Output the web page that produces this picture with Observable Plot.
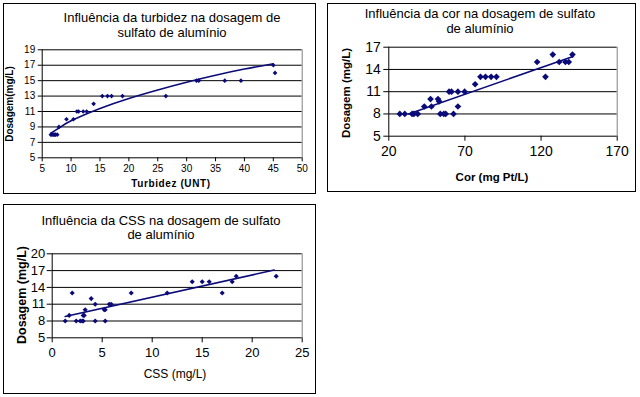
<!DOCTYPE html>
<html><head><meta charset="utf-8">
<script src="https://cdn.jsdelivr.net/npm/d3@7"></script>
<script src="https://cdn.jsdelivr.net/npm/@observablehq/plot@0.6"></script>
<style>
body{margin:0;background:#fff;}
#root{position:relative;width:640px;height:397px;overflow:hidden;font-family:"Liberation Sans",Arial,sans-serif;background:#fff;}
.box{position:absolute;border:1px solid #000;box-sizing:border-box;}
.t{position:absolute;white-space:nowrap;transform:translate(-50%,-50%);color:#000;line-height:1;}
.r{transform:translate(-50%,-50%) rotate(-90deg);}
.plot{position:absolute;}
</style></head><body><div id="root"></div>
<script>
// ---- Chart 1: turbidez ----
const turbTitle = ["Influência da turbidez na dosagem de", "sulfato de alumínio"];
const turbXLabel = "Turbidez (UNT)";
const turbYLabel = "Dosagem(mg/L)";
const turbX = [6.5, 6.7, 6.9, 7.1, 7.3, 7.6, 7.9, 9.2, 10.4, 11.0, 11.3, 12.1, 12.7, 13.9, 15.4, 16.3, 17.0, 18.9, 26.4, 31.7, 32.1, 36.6, 39.4, 45.3, 45.0];
const turbY = [8, 8, 8, 8, 8, 8, 9, 10, 10, 11, 11, 11, 11, 12, 13, 13, 13, 13, 13, 15, 15, 15, 15, 16, 17];
const turbTrendX = [6.5, 8, 10, 15, 20, 25, 30, 35, 40, 45];
const turbTrendY = [8.2, 8.9, 9.8, 11.4, 12.7, 13.8, 14.8, 15.7, 16.5, 17.2];
const turbXTicks = [5, 10, 15, 20, 25, 30, 35, 40, 45, 50];
const turbYTicks = [5, 7, 9, 11, 13, 15, 17, 19];

// ---- Chart 2: cor ----
const corTitle = ["Influência da cor na dosagem de sulfato", "de alumínio"];
const corXLabel = "Cor (mg Pt/L)";
const corYLabel = "Dosagem (mg/L)";
const corX = [27.2, 30.5, 35.3, 36.5, 39.0, 43.3, 47.4, 48.0, 52.3, 53.0, 53.8, 56.1, 57.4, 59.6, 61.2, 62.5, 65.4, 65.4, 69.8, 76.7, 80.2, 83.5, 87.2, 90.7, 117.4, 122.9, 127.7, 131.9, 136.0, 138.2, 140.6];
const corY = [8, 8, 8, 8, 8, 9, 10, 9, 10, 9.7, 8, 8, 8, 11, 11, 8, 11, 9, 11, 12, 13, 13, 13, 13, 15, 13, 16, 15, 15, 15, 16];
const corTrendX = [33, 141];
const corTrendY = [8.0, 15.75];
const corXTicks = [20, 70, 120, 170];
const corYTicks = [5, 8, 11, 14, 17];

// ---- Chart 3: CSS ----
const cssTitle = ["Influência da CSS na dosagem de sulfato", "de alumínio"];
const cssXLabel = "CSS (mg/L)";
const cssYLabel = "Dosagem (mg/L)";
const cssX = [1.3, 1.7, 2.0, 2.4, 2.8, 3.0, 3.1, 3.1, 3.2, 3.3, 3.9, 4.3, 4.3, 5.2, 5.3, 5.3, 5.7, 5.9, 7.9, 11.5, 14.0, 15.0, 15.7, 17.0, 18.0, 18.4, 22.4];
const cssY = [8, 9, 13, 8, 8, 8, 8, 9, 9, 10, 12, 11, 8, 10, 10, 8, 11, 11, 13, 13, 15, 15, 15, 13, 15, 16, 16];
const cssTrendX = [1.3, 22.2];
const cssTrendY = [8.8, 17.1];
const cssXTicks = [0, 5, 10, 15, 20, 25];
const cssYTicks = [5, 8, 11, 14, 17, 20];

const NAVY = "#0a0a78";
const root = document.getElementById("root");

function addText(txt, cx, cy, style, rotate) {
  const d = document.createElement("div");
  d.className = "t" + (rotate ? " r" : "");
  d.textContent = txt;
  d.style.left = cx + "px";
  d.style.top = cy + "px";
  Object.assign(d.style, style);
  root.appendChild(d);
}

function chart(c) {
  const box = document.createElement("div");
  box.className = "box";
  Object.assign(box.style, {left: c.box[0] + "px", top: c.box[1] + "px", width: c.box[2] + "px", height: c.box[3] + "px"});
  root.appendChild(box);

  const pts = c.xs.map((x, i) => ({x, y: c.ys[i]}));
  const trend = c.tx.map((x, i) => ({x, y: c.ty[i]}));
  const xMin = c.xTicks[0], xMax = c.xTicks[c.xTicks.length - 1];
  const yMin = c.yTicks[0], yMax = c.yTicks[c.yTicks.length - 1];

  const svg = Plot.plot({
    width: c.w, height: c.h,
    marginLeft: c.m[0], marginRight: c.m[1], marginTop: c.m[2], marginBottom: c.m[3],
    style: {fontFamily: "'Liberation Sans', Arial, sans-serif", fontSize: c.tickFont + "px", color: "#000", background: "transparent", overflow: "visible"},
    x: {domain: [xMin, xMax]},
    y: {domain: [yMin, yMax]},
    marks: [
      Plot.ruleY(c.yTicks.slice(1), {stroke: "#000"}),
      Plot.ruleX([xMax], {stroke: "#808080"}),
      Plot.ruleX([xMin], {stroke: "#000"}),
      Plot.ruleY([yMin], {stroke: "#000"}),
      Plot.axisX({ticks: c.xTicks, tickSize: c.tickSize, tickPadding: c.xPad, label: null, stroke: "#000", fill: "#000"}),
      Plot.axisY({ticks: c.yTicks, tickSize: c.tickSize, tickPadding: c.yPad, label: null, stroke: "#000", fill: "#000"}),
      Plot.line(trend, {x: "x", y: "y", stroke: NAVY, strokeWidth: 1.6, curve: "natural"}),
      Plot.dot(pts, {x: "x", y: "y", symbol: "diamond2", r: c.r, fill: NAVY, stroke: "none"})
    ]
  });
  const holder = document.createElement("div");
  holder.className = "plot";
  holder.style.left = c.svgPos[0] + "px";
  holder.style.top = c.svgPos[1] + "px";
  holder.appendChild(svg);
  root.appendChild(holder);

  addText(c.title[0], c.titlePos[0], c.titlePos[1], {fontSize: c.titleFont + "px"});
  addText(c.title[1], c.titlePos[0], c.titlePos[2], {fontSize: c.titleFont + "px"});
  addText(c.xLabel, c.xLabelPos[0], c.xLabelPos[1], c.xLabelStyle);
  addText(c.yLabel, c.yLabelPos[0], c.yLabelPos[1], c.yLabelStyle, true);
}

chart({
  box: [3, 3, 313, 191], svgPos: [4, 4], w: 310, h: 188, m: [37.7, 12.3, 45.3, 34.7],
  xs: turbX, ys: turbY, tx: turbTrendX, ty: turbTrendY, xTicks: turbXTicks, yTicks: turbYTicks,
  tickFont: 10, tickSize: 4, xPad: 3, yPad: 3, r: 2.1,
  title: turbTitle, titlePos: [172, 17, 32], titleFont: 13,
  xLabel: turbXLabel, xLabelPos: [171, 184], xLabelStyle: {fontSize: "10px", fontWeight: "bold", letterSpacing: "0.6px"},
  yLabel: turbYLabel, yLabelPos: [10, 104], yLabelStyle: {fontSize: "10px", fontWeight: "bold"}
});

chart({
  box: [327, 3, 309, 189], svgPos: [328, 4], w: 306, h: 186, m: [60.3, 17.3, 42.7, 54.3],
  xs: corX, ys: corY, tx: corTrendX, ty: corTrendY, xTicks: corXTicks, yTicks: corYTicks,
  tickFont: 14, tickSize: 5, xPad: 5, yPad: 3, r: 3,
  title: corTitle, titlePos: [480, 12.5, 27.5], titleFont: 13,
  xLabel: corXLabel, xLabelPos: [492, 178], xLabelStyle: {fontSize: "11.5px", fontWeight: "bold"},
  yLabel: corYLabel, yLabelPos: [347, 93], yLabelStyle: {fontSize: "11.5px", fontWeight: "bold"}
});

chart({
  box: [3, 204, 313, 190], svgPos: [4, 205], w: 310, h: 187, m: [47.7, 12.3, 48.3, 54.7],
  xs: cssX, ys: cssY, tx: cssTrendX, ty: cssTrendY, xTicks: cssXTicks, yTicks: cssYTicks,
  tickFont: 13, tickSize: 5, xPad: 5, yPad: 2, r: 2.3,
  title: cssTitle, titlePos: [161, 220, 234], titleFont: 13,
  xLabel: cssXLabel, xLabelPos: [175, 374], xLabelStyle: {fontSize: "12px"},
  yLabel: cssYLabel, yLabelPos: [22, 295], yLabelStyle: {fontSize: "12.5px", fontWeight: "bold"}
});
</script>
</body></html>
